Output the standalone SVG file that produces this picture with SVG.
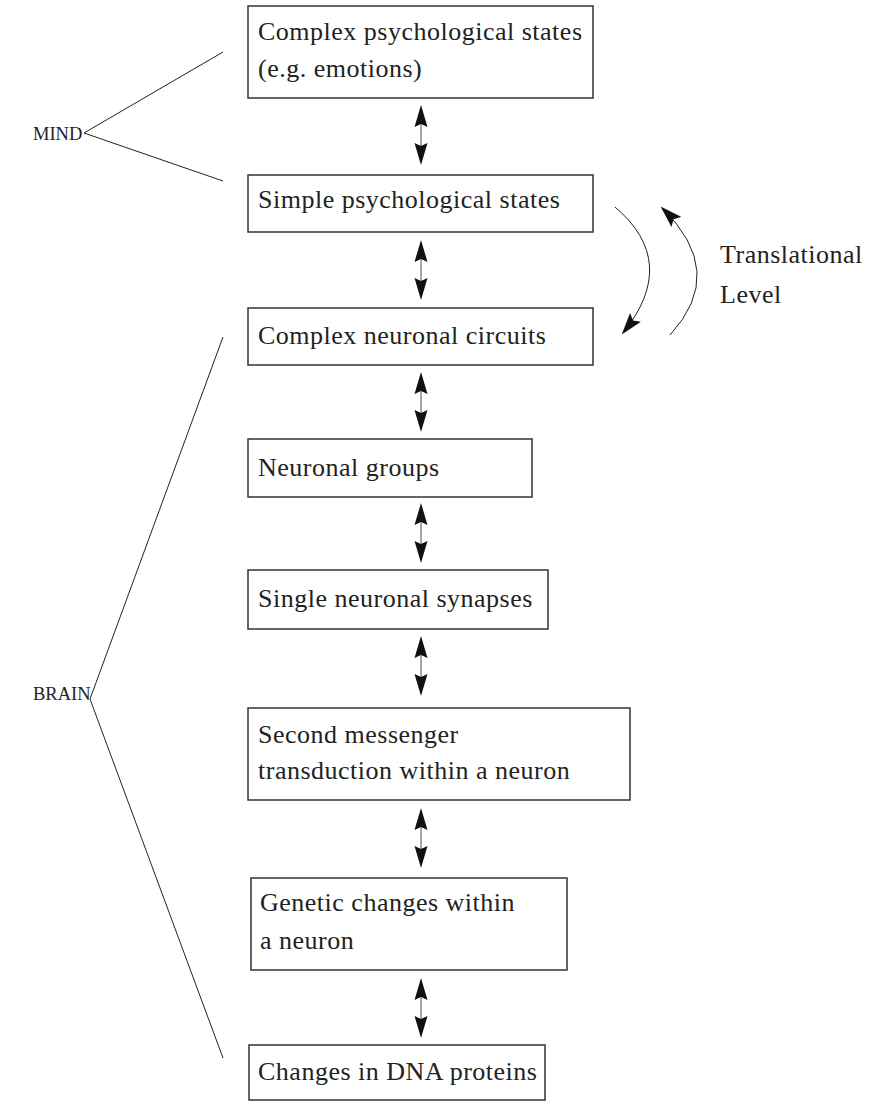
<svg xmlns="http://www.w3.org/2000/svg" width="870" height="1104" viewBox="0 0 870 1104">
<style>
.box{fill:#fff;stroke:#333;stroke-width:1.5}
.t{font-family:"Liberation Serif","Times New Roman",serif;font-size:26px;letter-spacing:0.5px;fill:#222}
.lab{font-family:"Liberation Serif","Times New Roman",serif;font-size:18.5px;fill:#222}
.ln{stroke:#222;stroke-width:1;fill:none}
.shaft{stroke:#888;stroke-width:1.5}
.head{fill:#111}
</style>
<defs>
<marker id="ah" viewBox="0 0 22 14" refX="20" refY="7" markerWidth="22" markerHeight="14" markerUnits="userSpaceOnUse" orient="auto">
<path d="M0,0 L22,7 L0,14 L4,7 Z" fill="#111"/>
</marker>
<g id="dbl">
<path class="head" d="M0,0 L6.5,22 L0,19 L-6.5,22 Z"/>
<line class="shaft" x1="0" y1="19" x2="0" y2="41"/>
<path class="head" d="M0,60 L6.5,38 L0,41 L-6.5,38 Z"/>
</g>
</defs>

<g id="mind">
<text class="lab" x="33" y="140">MIND</text>
<polyline class="ln" points="223,52 84,133 223,181"/>
</g>
<g id="brain">
<text class="lab" x="33" y="700">BRAIN</text>
<polyline class="ln" points="223,337 90,699 223,1058"/>
</g>

<g id="n1"><rect class="box" x="248" y="6" width="345" height="92"/>
<text class="t" x="258" y="40">Complex psychological states</text>
<text class="t" x="258" y="77">(e.g. emotions)</text></g>
<g id="n2"><rect class="box" x="248" y="175" width="345" height="57"/>
<text class="t" x="258" y="208">Simple psychological states</text></g>
<g id="n3"><rect class="box" x="248" y="308" width="345" height="57"/>
<text class="t" x="258" y="344">Complex neuronal circuits</text></g>
<g id="n4"><rect class="box" x="248" y="439" width="284" height="58"/>
<text class="t" x="258" y="476">Neuronal groups</text></g>
<g id="n5"><rect class="box" x="248" y="570" width="300" height="59"/>
<text class="t" x="258" y="607">Single neuronal synapses</text></g>
<g id="n6"><rect class="box" x="248" y="708" width="382" height="92"/>
<text class="t" x="258" y="743">Second messenger</text>
<text class="t" x="258" y="779">transduction within a neuron</text></g>
<g id="n7"><rect class="box" x="251" y="878" width="316" height="92"/>
<text class="t" x="260" y="911">Genetic changes within</text>
<text class="t" x="260" y="949">a neuron</text></g>
<g id="n8"><rect class="box" x="249" y="1045" width="296" height="55"/>
<text class="t" x="258" y="1080">Changes in DNA proteins</text></g>

<g id="translational">
<text class="t" x="720" y="263">Translational</text>
<text class="t" x="720" y="303">Level</text>
</g>

<g id="connectors">
<use href="#dbl" x="421" y="105"/>
<use href="#dbl" x="421" y="240"/>
<use href="#dbl" x="421" y="372"/>
<use href="#dbl" x="421" y="503"/>
<use href="#dbl" x="421" y="636"/>
<use href="#dbl" x="421" y="808"/>
<use href="#dbl" x="421" y="978"/>
<path class="ln" d="M615,207 Q680,262 623,333" marker-end="url(#ah)"/>
<path class="ln" d="M670,335 Q728,272 662,208" marker-end="url(#ah)"/>
</g>
</svg>
